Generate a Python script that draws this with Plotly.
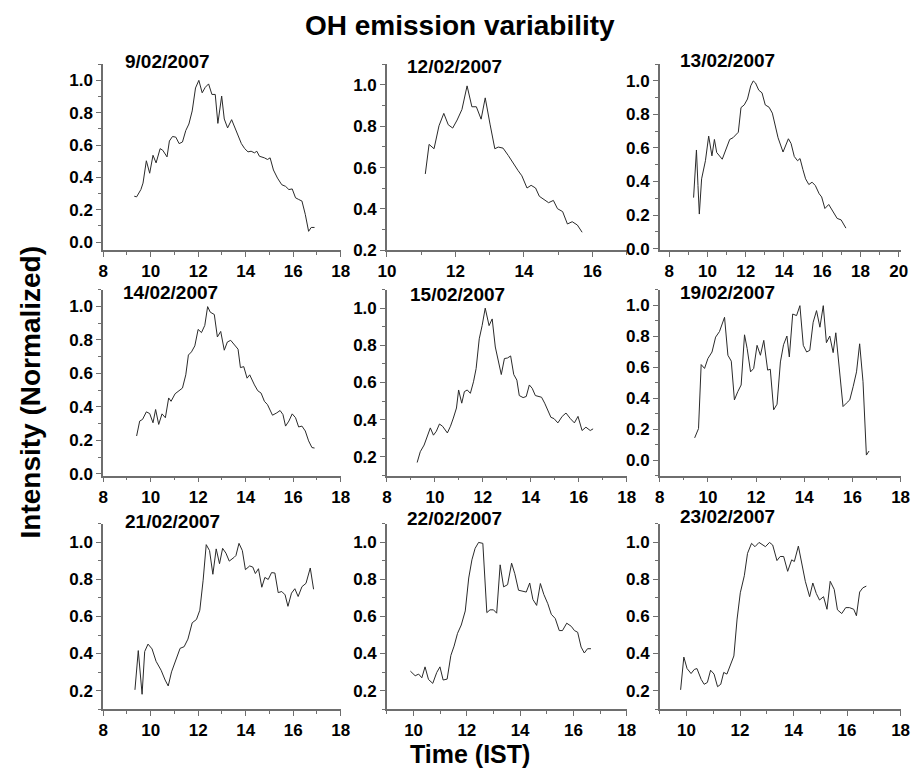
import plotly.graph_objects as go

# ---------------- data ----------------
titles = ["9/02/2007", "12/02/2007", "13/02/2007",
          "14/02/2007", "15/02/2007", "19/02/2007",
          "21/02/2007", "22/02/2007", "23/02/2007"]

t_0902 = [9.31, 9.41, 9.59, 9.68, 9.82, 9.96, 10.10, 10.23, 10.40, 10.51, 10.69, 10.79, 10.92, 11.06, 11.20,
          11.34, 11.48, 11.61, 11.75, 11.89, 12.03, 12.17, 12.30, 12.44, 12.58, 12.72, 12.83, 12.90, 12.99,
          13.10, 13.24, 13.41, 13.61, 13.82, 13.96, 14.10, 14.23, 14.37, 14.47, 14.58, 14.79, 14.92, 15.03,
          15.17, 15.34, 15.52, 15.68, 15.82, 15.96, 16.10, 16.23, 16.37, 16.51, 16.65, 16.76, 16.90]
i_0902 = [0.284, 0.280, 0.325, 0.365, 0.503, 0.426, 0.537, 0.490, 0.578, 0.568, 0.527, 0.625, 0.653, 0.649,
          0.609, 0.619, 0.690, 0.730, 0.811, 0.953, 1.000, 0.923, 0.957, 0.978, 0.913, 0.913, 0.734, 0.801,
          0.903, 0.761, 0.706, 0.757, 0.680, 0.609, 0.578, 0.558, 0.562, 0.552, 0.562, 0.531, 0.521, 0.511,
          0.521, 0.446, 0.396, 0.355, 0.345, 0.325, 0.329, 0.274, 0.264, 0.254, 0.172, 0.067, 0.091, 0.091]

t_1202 = [11.12, 11.23, 11.375, 11.52, 11.66, 11.79, 11.92, 12.05, 12.19, 12.34, 12.48, 12.61, 12.75, 12.87,
          13.01, 13.15, 13.25, 13.39, 13.54, 13.68, 13.83, 13.94, 14.09, 14.21, 14.34, 14.45, 14.60, 14.72,
          14.86, 14.98, 15.13, 15.27, 15.41, 15.56, 15.70]
i_1202 = [0.569, 0.712, 0.691, 0.802, 0.862, 0.807, 0.791, 0.830, 0.881, 0.995, 0.894, 0.894, 0.834, 0.937,
          0.810, 0.691, 0.699, 0.694, 0.659, 0.620, 0.585, 0.560, 0.501, 0.514, 0.501, 0.461, 0.446, 0.430,
          0.441, 0.401, 0.387, 0.327, 0.338, 0.322, 0.287]

t_1302 = [9.27, 9.42, 9.50, 9.57, 9.69, 9.89, 10.06, 10.23, 10.36, 10.48, 10.77, 10.96, 11.16, 11.33, 11.50,
          11.61, 11.75, 11.92, 12.09, 12.26, 12.39, 12.51, 12.68, 12.85, 13.02, 13.22, 13.39, 13.52, 13.69,
          13.95, 14.11, 14.23, 14.37, 14.54, 14.71, 14.84, 14.99, 15.13, 15.30, 15.47, 15.64, 15.84, 15.97,
          16.14, 16.34, 16.56, 16.78, 16.99, 17.24]
i_1302 = [0.304, 0.588, 0.376, 0.206, 0.416, 0.524, 0.671, 0.553, 0.651, 0.573, 0.533, 0.592, 0.651, 0.661,
          0.680, 0.694, 0.841, 0.857, 0.892, 0.971, 1.000, 0.988, 0.945, 0.929, 0.857, 0.843, 0.808, 0.739,
          0.661, 0.576, 0.616, 0.655, 0.627, 0.549, 0.524, 0.537, 0.471, 0.416, 0.382, 0.396, 0.376, 0.327,
          0.308, 0.239, 0.263, 0.220, 0.180, 0.171, 0.122]

t_1402 = [9.41, 9.54, 9.66, 9.82, 9.96, 10.10, 10.21, 10.34, 10.48, 10.62, 10.76, 10.86, 11.03, 11.20, 11.34,
          11.48, 11.59, 11.72, 11.86, 12.00, 12.14, 12.28, 12.40, 12.51, 12.68, 12.81, 12.95, 13.10, 13.23,
          13.37, 13.54, 13.68, 13.78, 13.92, 14.06, 14.17, 14.37, 14.51, 14.65, 14.79, 14.92, 15.13, 15.31,
          15.45, 15.57, 15.68, 15.82, 15.96, 16.10, 16.23, 16.37, 16.51, 16.65, 16.79, 16.90]
i_1402 = [0.226, 0.315, 0.325, 0.370, 0.360, 0.305, 0.384, 0.295, 0.358, 0.335, 0.453, 0.433, 0.478, 0.496,
          0.512, 0.591, 0.709, 0.728, 0.764, 0.862, 0.843, 0.886, 0.998, 0.965, 0.951, 0.817, 0.850, 0.738,
          0.787, 0.797, 0.764, 0.744, 0.634, 0.640, 0.571, 0.591, 0.531, 0.496, 0.482, 0.433, 0.413, 0.350,
          0.364, 0.378, 0.354, 0.285, 0.315, 0.358, 0.335, 0.280, 0.285, 0.256, 0.197, 0.157, 0.154]

t_1502 = [9.26, 9.39, 9.55, 9.68, 9.81, 9.94, 10.06, 10.19, 10.32, 10.52, 10.65, 10.77, 10.90, 10.99, 11.12,
          11.23, 11.35, 11.48, 11.61, 11.72, 11.85, 11.97, 12.10, 12.26, 12.39, 12.52, 12.65, 12.77, 12.90,
          13.03, 13.16, 13.29, 13.42, 13.52, 13.68, 13.81, 13.94, 14.06, 14.19, 14.32, 14.45, 14.58, 14.71,
          14.84, 14.97, 15.13, 15.31, 15.47, 15.65, 15.82, 15.97, 16.14, 16.30, 16.48, 16.60]
i_1502 = [0.170, 0.228, 0.264, 0.312, 0.356, 0.317, 0.338, 0.377, 0.365, 0.329, 0.365, 0.409, 0.463, 0.560,
          0.489, 0.551, 0.560, 0.542, 0.604, 0.675, 0.835, 0.906, 1.000, 0.906, 0.942, 0.791, 0.711, 0.643,
          0.729, 0.732, 0.743, 0.643, 0.613, 0.530, 0.519, 0.525, 0.587, 0.569, 0.530, 0.525, 0.521, 0.489,
          0.454, 0.413, 0.406, 0.383, 0.418, 0.436, 0.406, 0.383, 0.418, 0.342, 0.360, 0.342, 0.351]

t_1902 = [9.45, 9.61, 9.72, 9.86, 10.00, 10.17, 10.32, 10.48, 10.69, 10.83, 10.97, 11.10, 11.24, 11.38, 11.52,
          11.63, 11.77, 11.90, 12.04, 12.18, 12.32, 12.48, 12.59, 12.73, 12.87, 13.01, 13.14, 13.28, 13.38,
          13.52, 13.68, 13.82, 13.96, 14.10, 14.23, 14.37, 14.51, 14.65, 14.79, 14.92, 15.06, 15.20, 15.31,
          15.45, 15.61, 15.75, 15.89, 16.03, 16.17, 16.30, 16.44, 16.58, 16.69]
i_1902 = [0.143, 0.203, 0.616, 0.591, 0.655, 0.697, 0.793, 0.829, 0.921, 0.676, 0.638, 0.388, 0.441, 0.484,
          0.808, 0.719, 0.569, 0.591, 0.740, 0.676, 0.772, 0.580, 0.586, 0.324, 0.360, 0.633, 0.744, 0.800,
          0.665, 0.942, 0.932, 0.996, 0.740, 0.697, 0.708, 0.889, 0.964, 0.857, 0.996, 0.757, 0.800, 0.693,
          0.821, 0.580, 0.345, 0.367, 0.388, 0.473, 0.569, 0.750, 0.505, 0.032, 0.058]

t_2102 = [9.34, 9.48, 9.64, 9.75, 9.89, 10.06, 10.23, 10.44, 10.61, 10.74, 10.88, 11.03, 11.24, 11.41, 11.57,
          11.75, 11.93, 12.07, 12.21, 12.34, 12.48, 12.62, 12.76, 12.90, 13.03, 13.17, 13.31, 13.52, 13.59,
          13.72, 13.86, 13.99, 14.17, 14.30, 14.41, 14.54, 14.68, 14.81, 14.95, 15.09, 15.23, 15.37, 15.52,
          15.66, 15.78, 15.93, 16.07, 16.21, 16.37, 16.54, 16.72, 16.86]
i_2102 = [0.204, 0.416, 0.180, 0.411, 0.451, 0.425, 0.358, 0.310, 0.257, 0.225, 0.301, 0.354, 0.428, 0.437,
          0.478, 0.566, 0.584, 0.634, 0.796, 0.988, 0.956, 0.828, 0.965, 0.885, 0.968, 0.942, 0.899, 0.920,
          0.929, 0.995, 0.956, 0.853, 0.873, 0.867, 0.832, 0.858, 0.758, 0.811, 0.800, 0.837, 0.835, 0.729,
          0.735, 0.717, 0.655, 0.726, 0.750, 0.708, 0.761, 0.779, 0.862, 0.747]

t_2202 = [9.88, 10.06, 10.19, 10.31, 10.43, 10.56, 10.72, 10.87, 10.99, 11.11, 11.26, 11.40, 11.52, 11.65,
          11.79, 11.94, 12.07, 12.19, 12.31, 12.44, 12.60, 12.75, 12.87, 13.00, 13.12, 13.25, 13.38, 13.53,
          13.68, 13.80, 13.94, 14.08, 14.23, 14.36, 14.48, 14.62, 14.76, 14.89, 15.04, 15.17, 15.32, 15.47,
          15.59, 15.75, 15.92, 16.04, 16.16, 16.29, 16.41, 16.53, 16.66]
i_2202 = [0.305, 0.280, 0.289, 0.269, 0.328, 0.260, 0.239, 0.298, 0.328, 0.257, 0.262, 0.390, 0.440, 0.509,
          0.554, 0.630, 0.808, 0.906, 0.968, 1.000, 0.995, 0.621, 0.636, 0.636, 0.618, 0.879, 0.760, 0.772,
          0.888, 0.831, 0.742, 0.737, 0.732, 0.781, 0.692, 0.660, 0.778, 0.719, 0.669, 0.612, 0.589, 0.524,
          0.524, 0.564, 0.547, 0.524, 0.515, 0.435, 0.403, 0.426, 0.426]

t_2302 = [9.78, 9.90, 10.02, 10.17, 10.29, 10.39, 10.55, 10.66, 10.78, 10.90, 11.03, 11.16, 11.28, 11.39,
          11.51, 11.65, 11.77, 11.89, 12.01, 12.16, 12.28, 12.43, 12.56, 12.71, 12.83, 12.95, 13.10, 13.22,
          13.38, 13.50, 13.63, 13.78, 13.93, 14.03, 14.18, 14.30, 14.44, 14.60, 14.72, 14.85, 14.97, 15.12,
          15.25, 15.37, 15.52, 15.64, 15.80, 15.95, 16.09, 16.25, 16.35, 16.47, 16.59, 16.72]
i_2302 = [0.204, 0.381, 0.319, 0.292, 0.314, 0.319, 0.260, 0.234, 0.244, 0.310, 0.289, 0.221, 0.234, 0.298,
          0.289, 0.337, 0.387, 0.586, 0.728, 0.820, 0.941, 0.995, 0.977, 1.000, 0.986, 0.977, 1.000, 0.986,
          0.902, 0.924, 0.924, 0.844, 0.906, 0.897, 0.980, 0.888, 0.790, 0.707, 0.781, 0.724, 0.689, 0.707,
          0.639, 0.790, 0.746, 0.636, 0.616, 0.648, 0.648, 0.639, 0.604, 0.732, 0.755, 0.764]

times = [t_0902, t_1202, t_1302, t_1402, t_1502, t_1902, t_2102, t_2202, t_2302]
intens = [i_0902, i_1202, i_1302, i_1402, i_1502, i_1902, i_2102, i_2202, i_2302]

x_ranges = [[8, 18], [10, 17], [7.5, 20.1],
            [8, 18], [8, 18], [8, 18],
            [8, 18], [9, 18], [9, 18]]
y_ranges = [[-0.05, 1.1], [0.2, 1.1], [-0.01, 1.1],
            [-0.01, 1.1], [0.1, 1.1], [-0.1, 1.1],
            [0.1, 1.1], [0.1, 1.1], [0.1, 1.1]]

# ---------------- layout (pixels) ----------------
W, H = 919, 781
col_px = [(96, 338.3), (385.5, 630), (663.75, 909.4)]
row_px = [(65, 253.5), (293.3, 481.7), (530.7, 718.3)]
title_px = [(116, 62), (404, 67), (682, 61),
            (114, 296), (407, 298), (682, 296),
            (116, 528), (404, 525), (682, 523)]


def fx(px):
    return px / W


def fy(py):
    return 1 - py / H


FONT = "Liberation Sans, Arial, sans-serif"
axis_col = "#6e6e6e"

fig = go.Figure()
layout = dict(
    width=W, height=H, margin=dict(l=0, r=0, t=0, b=0),
    paper_bgcolor="white", plot_bgcolor="white", showlegend=False,
    font=dict(family=FONT, color="black"),
)

annotations = []
for k in range(9):
    r, c = divmod(k, 3)
    sx = "" if k == 0 else str(k + 1)
    fig.add_trace(go.Scatter(x=times[k], y=intens[k], mode="lines",
                             line=dict(color="#2a2a2a", width=1),
                             xaxis="x" + sx, yaxis="y" + sx, hoverinfo="skip"))
    x0, x1 = col_px[c]
    y0, y1 = row_px[r]
    layout["xaxis" + sx] = dict(
        domain=[fx(x0), fx(x1)], range=x_ranges[k], anchor="y" + sx,
        showgrid=False, zeroline=False, showline=True, linecolor=axis_col, linewidth=1.5,
        ticks="outside", ticklen=5, tickwidth=1.2, tickcolor=axis_col,
        tick0=0, dtick=2,
        minor=dict(ticks="outside", ticklen=3, dtick=1, tickcolor=axis_col, tickwidth=1),
        tickfont=dict(family=FONT, size=17, color="black", weight="bold"),
    )
    layout["yaxis" + sx] = dict(
        domain=[fy(y1), fy(y0)], range=y_ranges[k], anchor="x" + sx,
        showgrid=False, zeroline=False, showline=True, linecolor=axis_col, linewidth=1.5,
        ticks="outside", ticklen=5, tickwidth=1.2, tickcolor=axis_col,
        tick0=0, dtick=0.2, tickformat=".1f",
        minor=dict(ticks="outside", ticklen=3, dtick=0.1, tickcolor=axis_col, tickwidth=1),
        tickfont=dict(family=FONT, size=17, color="black", weight="bold"),
    )
    tx, ty = title_px[k]
    annotations.append(dict(text=titles[k], x=fx(tx), y=fy(ty), xref="paper", yref="paper",
                            xanchor="left", yanchor="middle", showarrow=False,
                            font=dict(family=FONT, size=19, color="black", weight="bold")))

annotations.append(dict(text="OH emission variability", x=fx(460), y=fy(26), xref="paper", yref="paper",
                        xanchor="center", yanchor="middle", showarrow=False,
                        font=dict(family=FONT, size=28, color="black", weight="bold")))
annotations.append(dict(text="Intensity (Normalized)", x=fx(22), y=fy(398), xref="paper", yref="paper",
                        xanchor="center", yanchor="middle", showarrow=False, textangle=-90,
                        font=dict(family=FONT, size=28, color="black", weight="bold")))
annotations.append(dict(text="Time (IST)", x=fx(470), y=fy(764), xref="paper", yref="paper",
                        xanchor="center", yanchor="middle", showarrow=False,
                        font=dict(family=FONT, size=25, color="black", weight="bold")))

layout["annotations"] = annotations
fig.update_layout(**layout)
fig.write_html("out.html")
